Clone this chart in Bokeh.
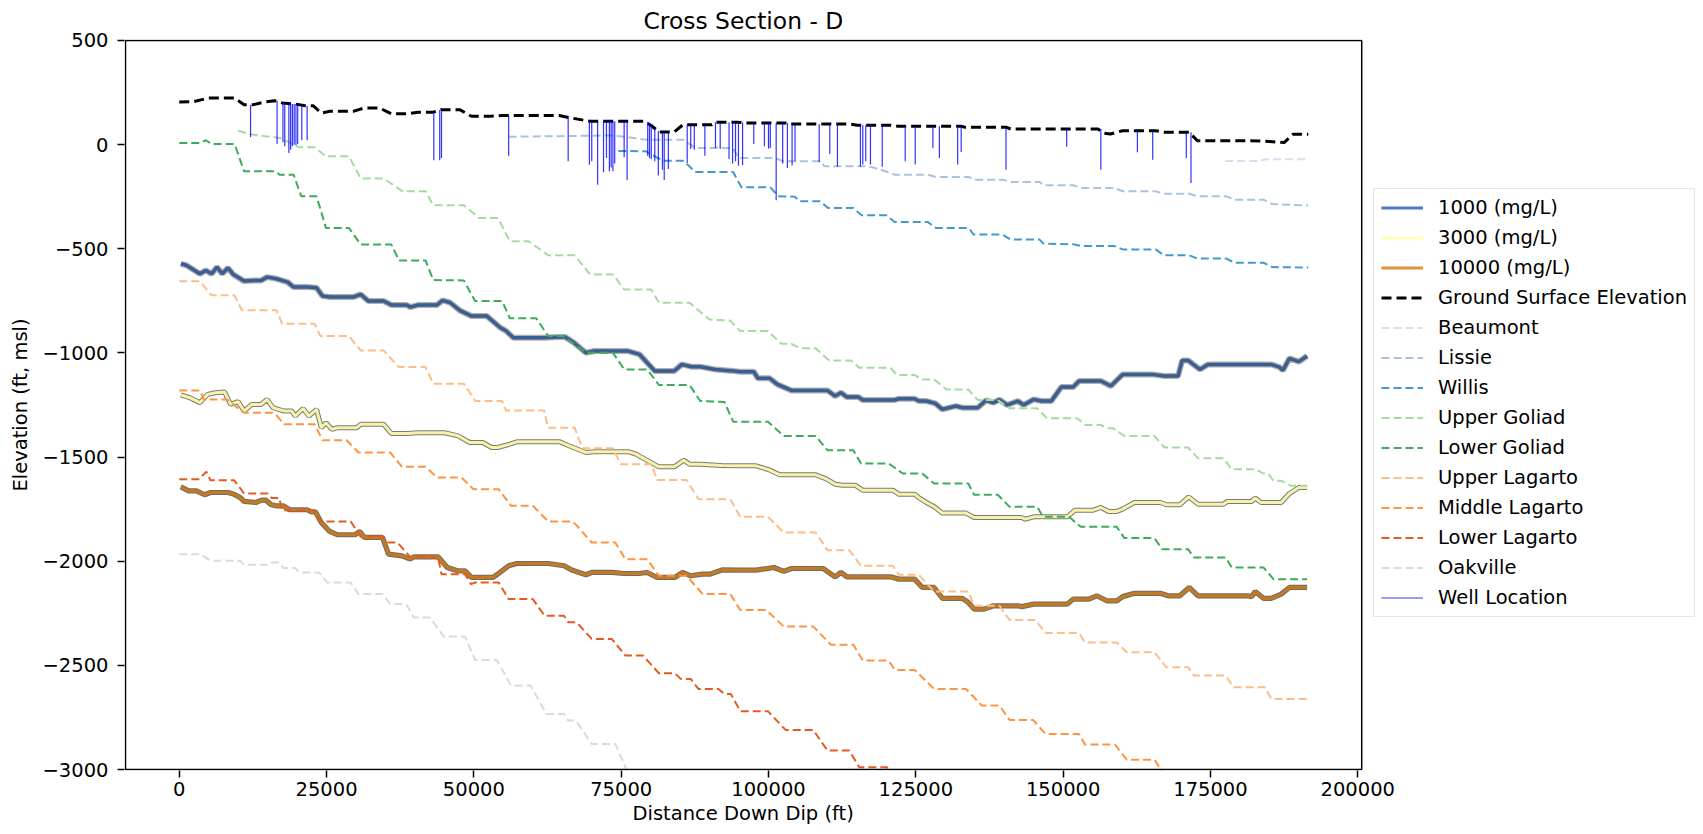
from bokeh.plotting import figure
from bokeh.models import Range1d, FixedTicker, Legend, LegendItem, ColumnDataSource, BoxAnnotation, Title
from bokeh.embed import file_html
from bokeh.resources import INLINE

FONT = "DejaVu Sans"

# ---------------- data ----------------
X_TICKS = [0, 25000, 50000, 75000, 100000, 125000, 150000, 175000, 200000]
Y_TICKS = [-3000, -2500, -2000, -1500, -1000, -500, 0, 500]
X_LIMITS = (-9124, 200671)   # axes box of the reference
Y_LIMITS = (-3000, 500)

TDS_1000 = [(270, -572), (1200, -579), (3500, -620), (4500, -604), (5500, -620), (6400, -588), (7300, -620),
            (8250, -592), (9200, -624), (11000, -655), (12600, -652), (13900, -652), (14900, -636), (16500, -644),
            (18400, -660), (19400, -684), (21700, -684), (23300, -687), (24300, -727), (25600, -732), (29500, -732),
            (30800, -719), (32100, -751), (34700, -751), (36000, -770), (38600, -770), (39200, -780), (40500, -770),
            (43700, -770), (44700, -748), (46000, -759), (47600, -796), (49600, -823), (52200, -823), (54500, -879),
            (55500, -895), (56700, -927), (61900, -927), (64500, -924), (65500, -924), (67000, -951), (69000, -999),
            (70400, -991), (76200, -991), (78100, -1007), (80700, -1087), (84000, -1087), (85300, -1055),
            (86900, -1066), (88400, -1066), (91000, -1080), (93500, -1085), (95200, -1090), (97500, -1090),
            (98200, -1122), (100200, -1122), (101500, -1151), (103900, -1180), (110000, -1180), (111300, -1207),
            (112300, -1191), (113300, -1212), (115300, -1212), (116000, -1226), (121400, -1226), (122100, -1220),
            (124800, -1220), (125500, -1231), (126800, -1231), (128300, -1242), (129500, -1271), (131800, -1255),
            (132900, -1263), (135500, -1263), (136900, -1228), (138200, -1239), (139200, -1224), (140500, -1250),
            (142300, -1231), (143300, -1250), (145000, -1223), (146300, -1231), (148000, -1231), (149700, -1164),
            (151700, -1164), (152700, -1135), (156400, -1135), (158100, -1159), (160100, -1103), (165100, -1103),
            (167200, -1111), (169500, -1111), (170200, -1036), (171200, -1036), (173200, -1079), (174600, -1055),
            (185300, -1055), (186700, -1068), (187300, -1084), (188400, -1026), (190000, -1042), (191400, -1015)]

TDS_3000 = [(270, -1202), (1800, -1215), (3500, -1239), (4800, -1199), (6100, -1191), (7700, -1188), (8700, -1247),
            (10000, -1234), (11000, -1279), (12300, -1247), (13900, -1247), (14900, -1223), (15900, -1263),
            (17800, -1279), (19100, -1279), (19700, -1303), (21000, -1267), (22000, -1303), (23300, -1271),
            (24100, -1359), (24900, -1335), (25900, -1367), (26900, -1359), (30100, -1359), (30800, -1343),
            (34700, -1343), (36000, -1387), (38600, -1387), (40500, -1383), (45000, -1383), (47300, -1398),
            (49300, -1430), (51500, -1430), (53000, -1454), (54000, -1454), (56100, -1438), (57400, -1426),
            (64500, -1426), (65800, -1442), (69000, -1478), (70400, -1474), (76200, -1474), (77500, -1486),
            (81400, -1547), (84000, -1547), (85600, -1515), (86600, -1534), (88400, -1534), (92000, -1540),
            (95200, -1542), (97900, -1542), (100000, -1560), (101900, -1585), (108000, -1585), (109800, -1605),
            (111300, -1630), (112600, -1635), (114700, -1635), (116000, -1659), (121100, -1659), (122100, -1678),
            (124800, -1678), (125500, -1695), (126800, -1718), (128200, -1740), (129500, -1769), (133500, -1769),
            (134900, -1790), (142900, -1790), (143600, -1798), (145000, -1787), (150700, -1787), (152000, -1755),
            (155100, -1755), (156400, -1742), (157700, -1761), (159100, -1761), (160100, -1750), (162100, -1718),
            (166500, -1718), (167500, -1729), (169800, -1729), (171300, -1691), (172900, -1726), (177200, -1726),
            (177900, -1713), (182000, -1713), (182600, -1697), (183600, -1718), (187000, -1718), (188400, -1675),
            (190000, -1646), (191400, -1646)]

TDS_10000 = [(263, -1643), (1600, -1662), (2900, -1662), (4300, -1681), (5300, -1670), (8300, -1670),
             (9300, -1678), (10300, -1694), (11000, -1713), (13000, -1718), (14000, -1707), (14700, -1707),
             (15600, -1729), (16400, -1734), (17700, -1734), (18700, -1753), (21700, -1753), (22400, -1763),
             (23100, -1763), (24100, -1814), (25400, -1854), (26800, -1873), (29800, -1873), (30600, -1857),
             (31400, -1886), (34500, -1886), (35500, -1966), (37800, -1974), (39200, -1990), (39800, -1979),
             (43900, -1979), (45500, -2030), (47200, -2046), (48500, -2046), (49600, -2078), (53200, -2078),
             (53900, -2065), (55900, -2022), (57300, -2011), (62600, -2011), (65300, -2022), (66600, -2042),
             (69000, -2065), (70000, -2054), (73400, -2054), (75400, -2059), (78000, -2059), (79400, -2054),
             (81100, -2078), (84100, -2078), (85400, -2054), (86800, -2070), (88800, -2062), (90100, -2062),
             (92100, -2042), (95200, -2043), (97900, -2043), (100900, -2030), (102600, -2049), (103900, -2035),
             (109300, -2035), (111300, -2075), (112300, -2054), (113300, -2075), (120700, -2075), (122100, -2086),
             (124800, -2086), (126100, -2126), (128100, -2126), (129500, -2178), (132900, -2178), (133900, -2198),
             (134900, -2230), (136600, -2230), (138200, -2214), (142300, -2214), (143000, -2218), (145000, -2206),
             (150700, -2206), (151700, -2182), (154400, -2182), (155700, -2166), (157400, -2190), (159100, -2190),
             (160100, -2170), (162100, -2154), (166500, -2154), (167800, -2166), (169800, -2166), (171400, -2126),
             (172900, -2166), (181300, -2166), (182000, -2170), (182600, -2146), (184000, -2178), (185300, -2178),
             (187000, -2158), (188400, -2126), (191400, -2126)]

GROUND = [(0, 205), (2500, 207), (5000, 224), (9400, 224), (11000, 192), (12600, 192), (14500, 205), (16200, 211),
          (17500, 200), (19700, 195), (21400, 187), (22700, 187), (24100, 152), (25600, 160), (29500, 160),
          (31400, 176), (34000, 176), (36000, 148), (38600, 148), (40500, 156), (43100, 156), (44400, 168),
          (47600, 168), (49600, 136), (52800, 136), (54800, 140), (64500, 140), (66500, 128), (69700, 112),
          (78800, 112), (80100, 92), (81400, 61), (84000, 61), (85500, 96), (90400, 96), (91100, 108), (94700, 108),
          (96100, 104), (103100, 104), (103800, 99), (113700, 99), (115100, 93), (120700, 93), (122100, 88),
          (132700, 88), (133400, 83), (140400, 83), (141100, 75), (155900, 75), (157000, 55), (158000, 51),
          (160100, 67), (165700, 67), (167100, 59), (171400, 59), (172800, 19), (181800, 19), (185000, 15),
          (187500, 10), (189000, 50), (191600, 50)]

BEAUMONT = [(177500, -78), (183000, -78), (184500, -70), (191600, -70)]

LISSIE = [(55900, 38), (73600, 44), (76000, 36), (79200, 24), (85500, 24), (87600, -16), (93900, -16), (95000, -64),
          (101000, -64), (102500, -80), (108800, -80), (109500, -104), (117000, -104), (119000, -120),
          (121400, -144), (127000, -144), (128400, -155), (134000, -155), (134800, -168), (139700, -168),
          (141100, -179), (146000, -179), (146700, -195), (151700, -195), (153100, -208), (158700, -208),
          (160100, -224), (165700, -224), (167100, -236), (171400, -236), (172800, -248), (177700, -248),
          (179100, -264), (184000, -264), (185500, -285), (191600, -292)]

WILLIS = [(74500, -30), (79200, -32), (82000, -77), (85500, -77), (87600, -131), (94000, -131), (95400, -205),
          (100300, -205), (101700, -248), (104500, -250), (105200, -272), (108700, -272), (110100, -304),
          (114400, -304), (115800, -339), (120000, -339), (121400, -371), (127000, -371), (128400, -400),
          (134000, -400), (134800, -432), (139700, -432), (141100, -456), (146000, -456), (146700, -476),
          (151700, -478), (153100, -487), (158700, -487), (160100, -503), (165700, -503), (167100, -531),
          (171400, -531), (172800, -547), (177700, -547), (179100, -567), (184000, -567), (185500, -588),
          (191600, -590)]

UPPER_GOLIAD = [(10000, 67), (12000, 50), (17100, 32), (20400, -13), (23000, -13), (24900, -56), (28800, -56),
                (30800, -163), (34700, -163), (37900, -224), (41800, -224), (43100, -291), (48300, -291),
                (50900, -352), (54100, -352), (56100, -464), (59300, -464), (62600, -531), (67100, -531),
                (69700, -623), (73600, -623), (75500, -695), (80100, -695), (81400, -759), (86600, -759),
                (88400, -802), (90000, -840), (93500, -845), (95200, -895), (99900, -895), (102200, -956),
                (103900, -956), (105300, -978), (108000, -978), (110300, -1036), (114000, -1036), (115400, -1071),
                (120700, -1071), (121800, -1106), (124800, -1106), (126100, -1127), (128100, -1127),
                (130200, -1175), (133900, -1175), (135500, -1226), (138900, -1226), (140900, -1266),
                (145600, -1266), (147300, -1314), (152400, -1314), (153700, -1346), (156400, -1346),
                (157500, -1362), (158500, -1362), (160400, -1399), (165500, -1399), (167200, -1454),
                (171200, -1454), (172900, -1506), (177200, -1506), (178600, -1558), (182600, -1558),
                (184000, -1579), (184800, -1579), (185700, -1614), (187000, -1614), (188700, -1638),
                (191400, -1638)]

LOWER_GOLIAD = [(0, 8), (3500, 8), (4500, 21), (5500, 3), (9400, 3), (11000, -128), (16500, -128), (17000, -144),
                (19400, -144), (20700, -248), (23300, -248), (24900, -400), (28800, -400), (30800, -480),
                (36000, -480), (37300, -556), (41800, -556), (43100, -650), (48300, -652), (50200, -751),
                (54800, -751), (56100, -834), (60600, -834), (62600, -919), (65200, -919), (69100, -999),
                (73600, -999), (75500, -1079), (79400, -1079), (81400, -1154), (86600, -1154), (88400, -1231),
                (92500, -1235), (94000, -1330), (99900, -1330), (102600, -1399), (108000, -1399), (110000, -1467),
                (114400, -1467), (115700, -1531), (120400, -1531), (122800, -1579), (126100, -1579),
                (128100, -1627), (133900, -1627), (134900, -1681), (138900, -1681), (140900, -1739),
                (145600, -1739), (146600, -1787), (151000, -1787), (153000, -1835), (159100, -1835),
                (160400, -1889), (165500, -1889), (166800, -1942), (171200, -1942), (172200, -1982),
                (177600, -1982), (178600, -2030), (184000, -2030), (185700, -2086), (191400, -2086)]

UPPER_LAGARTO = [(0, -656), (3500, -656), (5460, -723), (9350, -723), (10650, -795), (16500, -795), (17460, -860),
                 (22980, -860), (23950, -919), (28820, -919), (30770, -988), (34660, -988), (37260, -1068),
                 (41800, -1068), (43100, -1148), (48300, -1148), (50240, -1231), (54780, -1231), (55430, -1276),
                 (61920, -1276), (62570, -1359), (67100, -1359), (68410, -1458), (73600, -1458), (74900, -1534),
                 (80100, -1534), (81100, -1610), (86100, -1610), (88100, -1702), (93500, -1702), (95200, -1787),
                 (99900, -1787), (102600, -1862), (108000, -1862), (110000, -1947), (113700, -1947),
                 (115700, -2022), (121100, -2022), (122100, -2065), (125500, -2065), (128100, -2145),
                 (133900, -2145), (134900, -2214), (139200, -2214), (140900, -2282), (145300, -2282),
                 (147000, -2345), (152700, -2345), (153700, -2390), (159100, -2390), (160800, -2437),
                 (165500, -2437), (167500, -2509), (171200, -2509), (172200, -2549), (177600, -2549),
                 (178900, -2605), (184300, -2605), (185300, -2661), (191400, -2661)]

MIDDLE_LAGARTO = [(0, -1180), (3500, -1180), (4160, -1223), (8050, -1223), (10970, -1287), (15800, -1287),
                  (16500, -1300), (17800, -1343), (23000, -1343), (24300, -1419), (28400, -1419), (30400, -1478),
                  (35800, -1478), (37800, -1547), (41800, -1547), (43800, -1598), (47900, -1598), (49900, -1654),
                  (54200, -1654), (56300, -1734), (60000, -1734), (62600, -1809), (66700, -1809), (67500, -1830),
                  (70000, -1910), (74000, -1910), (75700, -1990), (79400, -1990), (81400, -2070), (86100, -2070),
                  (88800, -2157), (93500, -2157), (95200, -2234), (99600, -2234), (102600, -2314),
                  (107600, -2314), (110600, -2401), (114400, -2401), (116000, -2477), (120400, -2477),
                  (121400, -2522), (124800, -2522), (128100, -2613), (133500, -2613), (136200, -2693),
                  (139200, -2693), (140900, -2762), (144900, -2762), (147000, -2829), (152700, -2829),
                  (153700, -2880), (158800, -2880), (160800, -2953), (165500, -2953), (167500, -3040)]

LOWER_LAGARTO = [(0, -1606), (3300, -1606), (4600, -1570), (5300, -1611), (9300, -1611), (11000, -1675),
                 (15000, -1675), (15700, -1697), (17000, -1697), (17400, -1755), (22700, -1755), (24100, -1809),
                 (29100, -1809), (30800, -1883), (34500, -1883), (35200, -1910), (37000, -1910), (39200, -1979),
                 (43900, -1979), (44500, -2062), (48500, -2062), (49500, -2110), (50200, -2102), (54200, -2102),
                 (55900, -2182), (60000, -2182), (62000, -2262), (65300, -2262), (66000, -2293), (67400, -2293),
                 (70000, -2373), (73400, -2373), (75700, -2453), (78700, -2453), (81400, -2538), (84100, -2538),
                 (85100, -2565), (86800, -2565), (88100, -2613), (91500, -2613), (92500, -2637), (93600, -2637),
                 (95200, -2720), (99900, -2720), (102900, -2810), (107600, -2810), (110000, -2909),
                 (113700, -2909), (115400, -2989), (120100, -2989), (121000, -3040)]

OAKVILLE = [(0, -1966), (3600, -1966), (5300, -1998), (10300, -1998), (11000, -2017), (15000, -2017),
            (15700, -2006), (17000, -2006), (17700, -2033), (19700, -2033), (20400, -2054), (23700, -2054),
            (25100, -2102), (29100, -2102), (30400, -2158), (34500, -2158), (35800, -2206), (38500, -2206),
            (39800, -2270), (42500, -2270), (44900, -2362), (48500, -2362), (50200, -2474), (53900, -2474),
            (56300, -2597), (59600, -2597), (62300, -2733), (65300, -2733), (66000, -2765), (67300, -2765),
            (70000, -2877), (74000, -2877), (75700, -2988), (76500, -3040)]

# wells: (distance, top elevation, bottom elevation)
WELLS = [(12100, 192, 35), (16600, 211, 3), (17600, 200, 11), (17900, 200, -8), (18600, 197, -40),
         (18900, 196, -24), (19200, 195, -8), (19500, 195, 0), (19800, 195, -3), (20100, 193, 3),
         (20800, 190, 21), (21700, 187, 21), (43200, 156, -75), (44200, 166, -75), (44500, 168, -64),
         (55900, 140, -53), (66000, 130, -80), (69600, 112, -96), (70000, 112, -80), (71000, 112, -192),
         (72000, 112, -133), (72500, 112, -64), (73000, 112, -128), (73300, 112, -110), (73600, 112, -128),
         (73900, 112, -90), (75500, 112, -60), (76000, 112, -170), (79500, 110, -55), (79800, 105, -64),
         (80100, 92, -70), (80700, 80, -80), (81300, 65, -148), (82000, 61, -120), (82300, 61, -170),
         (83000, 61, -117), (86200, 96, -88), (86800, 96, -21), (87400, 96, -24), (89200, 96, -53),
         (91000, 108, -16), (91800, 108, -21), (93300, 108, -69), (93900, 108, -90), (94400, 108, -80),
         (94900, 108, -101), (95600, 106, -98), (97500, 104, 3), (99300, 104, -8), (100000, 104, -20),
         (100300, 104, -16), (101300, 104, -267), (102400, 104, -90), (103200, 104, -112), (104000, 99, -100),
         (104500, 99, -80), (108600, 99, -85), (110400, 99, -45), (111700, 99, -106), (115600, 93, -106),
         (116000, 93, -95), (116500, 93, -80), (117300, 93, -95), (119300, 93, -106), (123200, 88, -80),
         (124900, 88, -95), (127900, 88, -16), (129000, 88, -64), (132100, 88, -95), (132700, 88, -35),
         (140300, 83, -120), (150600, 75, -10), (156400, 75, -120), (162600, 67, -37), (165200, 67, -72),
         (170900, 59, -64), (171700, 59, -184)]


def xs(pairs):
    return [a for a, _ in pairs]


def ys(pairs):
    return [b for _, b in pairs]


# ---------------- figure ----------------
# The frame spans the whole width so that the legend (to the right of the axes box) is not clipped;
# the visible axes box is drawn with a BoxAnnotation at X_LIMITS / Y_LIMITS.
PX_X = 169.6      # data units per pixel along x
PX_Y = 4.7945     # data units per pixel along y
p = figure(width=1703, height=834,
           x_range=Range1d(X_LIMITS[0] - PX_X, X_LIMITS[0] + PX_X * 1579),
           y_range=Range1d(Y_LIMITS[0] - PX_Y, Y_LIMITS[1] + PX_Y),
           output_backend="svg", toolbar_location=None, title="Cross Section - D",
           min_border_left=124, min_border_right=0, min_border_top=38, min_border_bottom=64)
p.title.text_font = FONT
p.title.text_font_size = "23.4px"
p.title.text_font_style = "normal"
p.title.text_color = "black"
p.title.align = "left"
p.title.offset = 519
p.title.standoff = 9

p.xgrid.visible = False
p.ygrid.visible = False
p.outline_line_color = None
p.background_fill_color = "white"
p.border_fill_color = "white"

p.xaxis.ticker = FixedTicker(ticks=X_TICKS, minor_ticks=[])
p.yaxis.ticker = FixedTicker(ticks=Y_TICKS, minor_ticks=[])
p.xaxis.major_label_overrides = {t: str(t) for t in X_TICKS}
p.yaxis.major_label_overrides = {t: (str(t).replace("-", "\u2212")) for t in Y_TICKS}
for ax in (p.xaxis, p.yaxis):
    ax.axis_line_color = None
    ax.major_tick_line_width = 1.5
    ax.major_tick_line_color = "black"
    ax.major_tick_out = 7
    ax.major_tick_in = 0
    ax.minor_tick_out = 0
    ax.minor_tick_in = 0
    ax.major_label_text_font = FONT
    ax.major_label_text_font_size = "19.5px"
    ax.major_label_text_color = "black"
    ax.axis_label_text_font = FONT
    ax.axis_label_text_font_size = "19.5px"
    ax.axis_label_text_font_style = "normal"
    ax.axis_label_text_color = "black"
p.xaxis.major_label_standoff = 4
p.yaxis.major_label_standoff = 9
p.yaxis.axis_label = "Elevation (ft, msl)"
p.yaxis.axis_label_standoff = 8

xlabel = Title(text="Distance Down Dip (ft)", align="left", offset=508, vertical_align="top", standoff=6,
               text_font=FONT, text_font_size="19.5px", text_font_style="normal", text_color="black")
p.add_layout(xlabel, "below")

# TDS lines with halo
p.line(xs(TDS_1000), ys(TDS_1000), line_color="#8c8c8c", line_width=6, line_alpha=0.7)
p.line(xs(TDS_1000), ys(TDS_1000), line_color="#3a5d92", line_width=3.5)
p.line(xs(TDS_3000), ys(TDS_3000), line_color="#5a5a4c", line_width=5, line_alpha=0.8)
p.line(xs(TDS_3000), ys(TDS_3000), line_color="#f6f2ae", line_width=3)
p.line(xs(TDS_10000), ys(TDS_10000), line_color="#5f5040", line_width=5.2, line_alpha=0.85)
p.line(xs(TDS_10000), ys(TDS_10000), line_color="#c17a25", line_width=3.2)

# legend proxies for TDS lines (legend colours are lighter); their data lie far outside the view
far = dict(x=[1e7, 1e7 + 1], y=[0, 0])
l1000 = p.line("x", "y", source=ColumnDataSource(far), line_color="#4f7bbf", line_width=3)
l3000 = p.line("x", "y", source=ColumnDataSource(far), line_color="#ffffb5", line_width=3)
l10000 = p.line("x", "y", source=ColumnDataSource(far), line_color="#e0923a", line_width=3)

rground = p.line(xs(GROUND), ys(GROUND), line_color="black", line_width=3, line_dash="10 5")

FORMATIONS = [
    ("Beaumont", BEAUMONT, "#dcdcf0"),
    ("Lissie", LISSIE, "#aac2de"),
    ("Willis", WILLIS, "#4499cc"),
    ("Upper Goliad", UPPER_GOLIAD, "#a6dba0"),
    ("Lower Goliad", LOWER_GOLIAD, "#3dab5c"),
    ("Upper Lagarto", UPPER_LAGARTO, "#fdbd86"),
    ("Middle Lagarto", MIDDLE_LAGARTO, "#fd9443"),
    ("Lower Lagarto", LOWER_LAGARTO, "#e65a20"),
    ("Oakville", OAKVILLE, "#dadada"),
]
form_renderers = []
for name, pts, col in FORMATIONS:
    r = p.line(xs(pts), ys(pts), line_color=col, line_width=2, line_dash="8 4")
    form_renderers.append((name, r))

rwell = p.segment(x0=[w[0] for w in WELLS], y0=[w[1] for w in WELLS],
                  x1=[w[0] for w in WELLS], y1=[w[2] for w in WELLS],
                  line_color="#0000ff", line_width=1.2, line_alpha=0.8)

# axes box
p.add_layout(BoxAnnotation(left=X_LIMITS[0], right=X_LIMITS[1], bottom=Y_LIMITS[0], top=Y_LIMITS[1],
                           fill_color=None, fill_alpha=0, line_color="black", line_alpha=1.0,
                           line_width=1.5, editable=False))

items = [LegendItem(label="1000 (mg/L)", renderers=[l1000]),
         LegendItem(label="3000 (mg/L)", renderers=[l3000]),
         LegendItem(label="10000 (mg/L)", renderers=[l10000]),
         LegendItem(label="Ground Surface Elevation", renderers=[rground])]
items += [LegendItem(label=n, renderers=[r]) for n, r in form_renderers]
items.append(LegendItem(label="Well Location", renderers=[rwell]))

legend = Legend(items=items, location=(1249, 153), orientation="vertical",
                label_text_font=FONT, label_text_font_size="19.5px", label_text_color="black",
                glyph_width=42, glyph_height=23, label_height=23, label_standoff=15,
                spacing=7, padding=7, margin=0,
                border_line_color="#cccccc", border_line_width=1.5,
                background_fill_color="white", background_fill_alpha=1.0)
p.add_layout(legend)

open("out.html", "w").write(file_html(p, INLINE))
